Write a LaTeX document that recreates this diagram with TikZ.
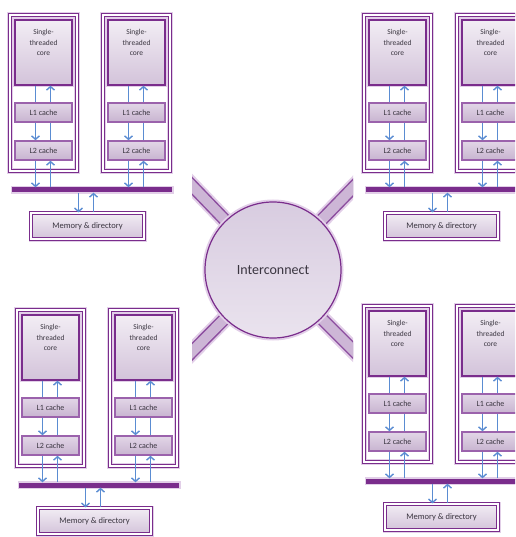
\documentclass[tikz,border=0pt]{standalone}
\usepackage{fontspec}
\setmainfont{Carlito}
\usetikzlibrary{arrows.meta,backgrounds}

\definecolor{frame}{HTML}{7A2D8C}
\definecolor{halo}{HTML}{E2CFE8}
\definecolor{boxtop}{HTML}{F2EDF4}
\definecolor{boxbot}{HTML}{D3C3DA}
\definecolor{cachetop}{HTML}{E2D6E7}
\definecolor{cachebot}{HTML}{C8B4D0}
\definecolor{cacheline}{HTML}{9B62AC}
\definecolor{linkc}{HTML}{5A8CD2}
\definecolor{txt}{HTML}{3A3540}
\definecolor{spokeedge}{HTML}{8D4FA0}
\definecolor{spokefill}{HTML}{CDB6D6}
\definecolor{ictop}{HTML}{D8CCE0}
\definecolor{icbot}{HTML}{EAE3EE}

\tikzset{
  procframe/.style={rectangle, inner sep=0pt, minimum width=67pt, minimum height=156pt,
    draw=frame, line width=1.5pt, double=white, double distance=1.5pt,
    preaction={draw=halo, line width=6pt}},
  corebox/.style={rectangle, inner sep=0pt, minimum width=57pt, minimum height=65pt,
    draw=frame, line width=1.4pt, top color=boxtop, bottom color=boxbot,
    preaction={draw=halo, line width=3.5pt}},
  coretxt/.style={align=center, text=txt, yshift=10pt,
    font=\fontsize{7.5}{10.5}\selectfont},
  cachebox/.style={rectangle, inner sep=0pt, minimum width=57pt, minimum height=19pt,
    draw=cacheline, line width=1.5pt, top color=cachetop, bottom color=cachebot,
    text=txt, font=\fontsize{8}{9}\selectfont},
  busbar/.style={rectangle, inner sep=0pt, minimum width=160pt, minimum height=5pt,
    fill=frame, preaction={draw=halo, line width=3pt}},
  membox/.style={rectangle, inner sep=0pt, minimum width=113pt, minimum height=26pt,
    draw=frame, line width=1.1pt, double=white, double distance=1.2pt,
    top color=boxtop, bottom color=boxbot, text=txt, font=\fontsize{8.5}{10}\selectfont,
    preaction={draw=halo, line width=5pt}},
  linkplain/.style={draw=linkc, line width=1.4pt},
  linkarrow/.style={linkplain, -{Straight Barb[length=3.5pt,width=8pt]}},
  spokehalo/.style={draw=halo, line width=17pt},
  spokeout/.style={draw=spokeedge, line width=13pt},
  spokein/.style={draw=spokefill, line width=10pt},
}

% one processor: frame, core and its two caches
\newcommand\procunit[2]{%
  \begin{scope}[xshift=#2pt]
    \node[procframe] (#1) at (35.5,80) {};
    \node[corebox, label={[coretxt]center:{Single-\\threaded\\core}}] (#1c) at (35.5,39.5) {};
    \node[cachebox] (#1l1) at (35.5,99.5) {L1 cache};
    \node[cachebox] (#1l2) at (35.5,137.5) {L2 cache};
  \end{scope}}

% links of one processor down to the bus
\newcommand\procarrows[2]{%
  \coordinate (#1x1) at ([xshift=-8pt]#1l2.south);
  \coordinate (#1x2) at ([xshift=7pt]#1l2.south);
  \draw[linkplain] ([xshift=-8pt]#1c.south) -- ([xshift=-8pt]#1l1.north);
  \draw[linkarrow] ([xshift=-8pt]#1l1.south) -- ([xshift=-8pt]#1l2.north);
  \draw[linkplain] ([xshift=7pt]#1l2.north) -- ([xshift=7pt]#1l1.south);
  \draw[linkarrow] ([xshift=7pt]#1l1.north) -- ([xshift=7pt]#1c.south);
  \draw[linkarrow] (#1x1) -- (#1x1 |- #2.north);
  \draw[linkarrow] (#1x2 |- #2.north) -- (#1x2);
}

% a node of the machine: two processors, bus, memory
\newcommand\cluster[3]{%
  \begin{scope}[shift={(#2,#3)}]
    \procunit{#1a}{0}
    \procunit{#1b}{93}
    \node[busbar] (#1bus) at (84,177) {};
    \node[membox] (#1mem) at (79.5,213) {Memory \& directory};
    \procarrows{#1a}{#1bus}
    \procarrows{#1b}{#1bus}
    \coordinate (#1m1) at ([xshift=-9pt]#1mem.north);
    \coordinate (#1m2) at ([xshift=6pt]#1mem.north);
    \draw[linkarrow] (#1m1 |- #1bus.south) -- (#1m1);
    \draw[linkarrow] (#1m2) -- (#1m2 |- #1bus.south);
  \end{scope}}

\begin{document}
\begin{tikzpicture}[x=1pt,y=-1pt]
  \useasboundingbox (0,0) rectangle (515,537);
  \clip (0,0) rectangle (515,537);

  % interconnect hub
  \node[circle, inner sep=0pt, minimum size=136pt, draw=frame, line width=1.2pt,
        top color=ictop, bottom color=icbot, text=txt,
        font=\fontsize{14}{16}\selectfont,
        preaction={draw=halo, line width=5pt}] (ic) at (273,270) {Interconnect};

  \coordinate (sul) at (170,163);
  \coordinate (sur) at (376,164);
  \coordinate (sll) at (170,374);
  \coordinate (slr) at (376,373);

  \begin{scope}[on background layer]
    \clip (192,0) rectangle (353,537);
    \foreach \s in {sul,sur,sll,slr} {
      \draw[spokehalo] (ic.center) -- (\s);
      \draw[spokeout] (ic.center) -- (\s);
      \draw[spokein] (ic.center) -- (\s);
    }
  \end{scope}

  \cluster{tl}{8}{13}
  \cluster{tr}{362}{13}
  \cluster{bl}{15}{308}
  \cluster{br}{362}{304}
\end{tikzpicture}
\end{document}
